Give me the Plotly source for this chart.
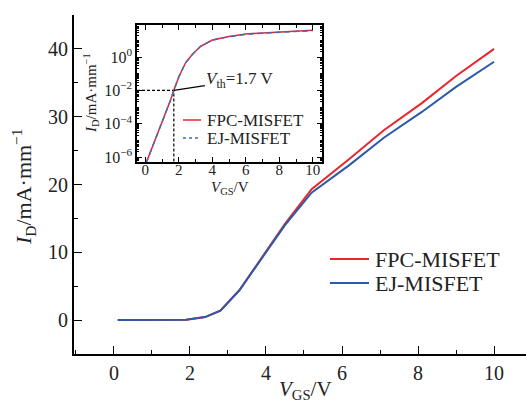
import plotly.graph_objects as go

# ---------------- data ----------------
# main panel (linear scale)
vgs_main = [0.1, 1.0, 1.9, 2.4, 2.8, 3.3, 3.9, 4.5, 5.2, 6.2, 7.1, 8.1, 9.0, 10.0]
id_fpc = [0.0, 0.0, 0.05, 0.45, 1.4, 4.4, 9.3, 14.2, 19.3, 23.8, 28.0, 32.0, 36.0, 40.0]
id_ej = [0.0, 0.0, 0.05, 0.45, 1.4, 4.4, 9.2, 14.0, 18.8, 22.9, 26.9, 30.7, 34.4, 38.1]

# inset (log scale)
vgs_inset = [0.05, 0.5, 1.0, 1.5, 1.7, 2.0, 2.4, 2.8, 3.3, 4.0, 5.0, 6.0, 7.0, 8.0, 9.0, 10.0]
id_fpc_log = [4.5e-7, 6e-6, 1.2e-4, 2.5e-3, 1.0e-2, 6.5e-2, 0.45, 1.4, 4.4, 10.5, 17.0, 23.8, 28.0, 32.0, 36.0, 40.0]
id_ej_log = [4.5e-7, 6e-6, 1.2e-4, 2.5e-3, 1.0e-2, 6.5e-2, 0.45, 1.4, 4.4, 10.3, 16.6, 22.9, 26.9, 30.7, 34.4, 38.1]

vth = 1.7
id_th = 1e-2

series_names = ["FPC-MISFET", "EJ-MISFET"]
x_main_ticks = [0, 2, 4, 6, 8, 10]
y_main_ticks = [0, 10, 20, 30, 40]
x_inset_ticks = [0, 2, 4, 6, 8, 10]
y_inset_tickvals = [1e-6, 1e-4, 1e-2, 1]
y_inset_ticktext = ["10<sup>−6</sup>", "10<sup>−4</sup>", "10<sup>−2</sup>", "10<sup>0</sup>"]

RED = "#e8262c"
BLUE = "#2b5aa8"
BLUE_D = "#3d6cc0"
FONT = "Liberation Serif"

W, H = 526, 403
ML, MR, MT, MB = 74, 0, 15, 49
PW, PH = W - ML - MR, H - MT - MB


def px_x(p):
    return (p - ML) / PW


def px_y(p):
    return (H - MB - p) / PH


fig = go.Figure()

fig.add_trace(go.Scatter(x=vgs_main, y=id_fpc, mode="lines", name=series_names[0],
                         line=dict(color=RED, width=2), showlegend=False))
fig.add_trace(go.Scatter(x=vgs_main, y=id_ej, mode="lines", name=series_names[1],
                         line=dict(color=BLUE, width=2), showlegend=False))

# inset traces
fig.add_trace(go.Scatter(x=[-0.5, vth, vth], y=[id_th, id_th, 10 ** -6.3], mode="lines",
                         line=dict(color="black", width=1.2, dash="3px,2px"),
                         xaxis="x2", yaxis="y2", showlegend=False, hoverinfo="skip"))
fig.add_trace(go.Scatter(x=vgs_inset, y=id_fpc_log, mode="lines", name=series_names[0],
                         line=dict(color=RED, width=1.5), xaxis="x2", yaxis="y2", showlegend=False))
fig.add_trace(go.Scatter(x=vgs_inset, y=id_ej_log, mode="lines", name=series_names[1],
                         line=dict(color=BLUE_D, width=1.5, dash="5px,4px"), xaxis="x2", yaxis="y2",
                         showlegend=False))

inset_x = [px_x(137), px_x(322)]
inset_y = [px_y(162), px_y(25)]

fig.update_layout(
    width=W, height=H,
    margin=dict(l=ML, r=MR, t=MT, b=MB),
    paper_bgcolor="white", plot_bgcolor="rgba(0,0,0,0)",
    font=dict(family=FONT, color="#222", size=19),
    showlegend=False,
    xaxis=dict(range=[-1.05, 10.84], domain=[0, 1], showgrid=False, zeroline=False,
               showline=True, linecolor="black", linewidth=2,
               tickmode="array", tickvals=x_main_ticks, ticks="inside", ticklen=8,
               tickwidth=1.3, tickcolor="black",
               minor=dict(dtick=1, tick0=0, ticks="inside", ticklen=4, tickwidth=1.2, tickcolor="black"),
               tickfont=dict(size=20)),
    xaxis3=dict(range=[-1.05, 10.84], overlaying="x", side="top", showgrid=False, zeroline=False,
                showline=True, linecolor="black", linewidth=2, tickmode="array", tickvals=x_main_ticks,
                ticks="inside", ticklen=3, tickwidth=2, tickcolor="#333", showticklabels=False),
    yaxis=dict(range=[-5, 45], domain=[0, 1], showgrid=False, zeroline=False,
               showline=True, linecolor="black", linewidth=2,
               tickmode="array", tickvals=y_main_ticks, ticks="inside", ticklen=8,
               tickwidth=1.3, tickcolor="black",
               minor=dict(dtick=5, tick0=0, ticks="inside", ticklen=4, tickwidth=1.2, tickcolor="black"),
               tickfont=dict(size=20)),
    xaxis2=dict(domain=inset_x, anchor="y2", range=[-0.5, 10.55], showgrid=False, zeroline=False,
                showline=True, mirror="ticks", linecolor="black", linewidth=1.5,
                tickmode="array", tickvals=x_inset_ticks, ticks="inside", ticklen=5, tickwidth=1,
                tickcolor="black", ticklabelstandoff=-7,
                minor=dict(dtick=1, tick0=0, ticks="inside", ticklen=3, tickwidth=1, tickcolor="black"),
                tickfont=dict(size=15)),
    yaxis2=dict(domain=inset_y, anchor="x2", type="log", range=[-6.3, 1.92], showgrid=False,
                zeroline=False, showline=True, mirror="ticks", linecolor="black", linewidth=1.5,
                tickmode="array", tickvals=y_inset_tickvals, ticktext=y_inset_ticktext,
                ticks="inside", ticklen=5, tickwidth=1, tickcolor="black",
                minor=dict(dtick="D1", ticks="inside", ticklen=2.5, tickwidth=1, tickcolor="black"),
                tickfont=dict(size=16)),
)

annos = [
    dict(text="<i>I</i><sub>D</sub>/mA·mm<sup>−1</sup>", x=px_x(23), y=px_y(187),
         textangle=-90, font=dict(size=22), yanchor="middle"),
    dict(text="<i>V</i><sub>GS</sub>/V", x=px_x(305), y=px_y(405), font=dict(size=21),
         yanchor="bottom"),
    dict(text="<i>I</i><sub>D</sub>/mA·mm<sup>−1</sup>", x=px_x(91), y=px_y(93),
         textangle=-90, font=dict(size=15), yanchor="middle"),
    dict(text="<i>V</i><sub>GS</sub>/V", x=px_x(230), y=px_y(188), font=dict(size=15),
         yanchor="middle"),
]
for a in annos:
    a.update(xref="paper", yref="paper", showarrow=False, xanchor="center")

annos.append(dict(text="<i>V</i><sub>th</sub>=1.7 V", x=vth, y=-2, xref="x2", yref="y2",
                  showarrow=True, arrowhead=0, arrowwidth=1.3, arrowcolor="black", ax=66, ay=-10,
                  font=dict(size=17)))

# legends (drawn manually to match the reference's spacing)
shapes = []
main_leg = [(series_names[0], RED, "solid", 259), (series_names[1], BLUE, "solid", 283)]
for name, col, dash, yy in main_leg:
    shapes.append(dict(type="line", xref="paper", yref="paper", x0=px_x(330), x1=px_x(369),
                       y0=px_y(yy), y1=px_y(yy), line=dict(color=col, width=2.2, dash=dash)))
    annos.append(dict(text=name, xref="paper", yref="paper", x=px_x(373), y=px_y(yy),
                      xanchor="left", yanchor="middle", showarrow=False, font=dict(size=22)))
inset_leg = [(series_names[0], RED, "solid", 120), (series_names[1], BLUE_D, "3px,3px", 138)]
for name, col, dash, yy in inset_leg:
    shapes.append(dict(type="line", xref="paper", yref="paper", x0=px_x(183), x1=px_x(201),
                       y0=px_y(yy), y1=px_y(yy), line=dict(color=col, width=1.5, dash=dash)))
    annos.append(dict(text=name, xref="paper", yref="paper", x=px_x(205), y=px_y(yy),
                      xanchor="left", yanchor="middle", showarrow=False, font=dict(size=17)))

fig.update_layout(annotations=annos, shapes=shapes)

fig.write_html("out.html")
